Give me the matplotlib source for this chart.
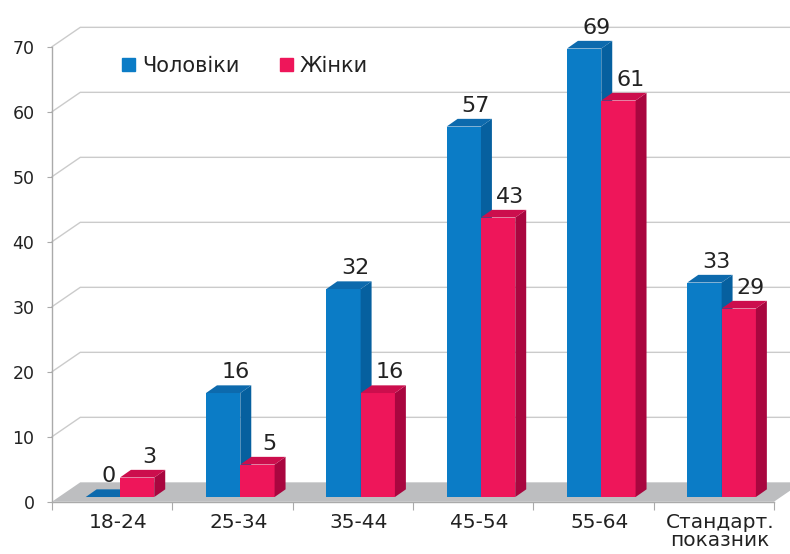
import numpy as np
import matplotlib.pyplot as plt
from matplotlib.patches import Patch

# Chart data
categories = ['18-24', '25-34', '35-44', '45-54', '55-64', 'Стандарт.\nпоказник']
men = [0, 16, 32, 57, 69, 33]
women = [3, 5, 16, 43, 61, 29]
series_names = ['Чоловіки', 'Жінки']

# colours: front, side, top
blue = ('#0b7cc6', '#06609f', '#0d6aad')
red = ('#ee165a', '#a9063f', '#cc0e4d')
grid_col = '#cbcbcb'
text_col = '#222222'

# fake 3d geometry (data units)
depth_x, depth_y = 0.235, 2.98      # full depth of the wall/floor
front_x, front_y = 0.057, 0.72      # where the bar front sits in depth
side_x, side_y = 0.091, 1.18        # bar depth
bar_w = 0.285

fig = plt.figure(figsize=(7.9, 5.54), dpi=100)
ax = fig.add_axes([52 / 790, (554 - 501.7) / 554, 737.6 / 790, 487.5 / 554])
ax.set_xlim(0, 6.13)
ax.set_ylim(0, 75)

n = len(categories)
yticks = np.arange(0, 80, 10)

# back wall gridlines
for v in yticks[1:]:
    ax.plot([0, depth_x, 6.13], [v, v + depth_y, v + depth_y],
            color=grid_col, lw=1, zorder=1, clip_on=False)

# floor
ax.fill([0, n, n + depth_x, depth_x], [0, 0, depth_y, depth_y],
        color='#bdbec0', lw=0, zorder=2, clip_on=False)


def draw_bar(x0, val, cols):
    x1 = x0 + bar_w
    y0 = front_y
    y1 = val + front_y
    ax.bar(x0, val, width=bar_w, bottom=y0, align='edge',
           color=cols[0], lw=0, zorder=3)
    ax.fill([x1, x1 + side_x, x1 + side_x, x1],
            [y0, y0 + side_y, y1 + side_y, y1],
            color=cols[1], lw=0, zorder=3)
    ax.fill([x0, x1, x1 + side_x, x0 + side_x],
            [y1, y1, y1 + side_y, y1 + side_y],
            color=cols[2], lw=0, zorder=3)


for i in range(n):
    left = i + 0.5 - bar_w + front_x + 0.008
    for k, (vals, cols) in enumerate([(men, blue), (women, red)]):
        x0 = left + k * bar_w
        draw_bar(x0, vals[i], cols)
        dx = 0.05 if vals[i] == 0 else 0.1
        ax.text(x0 + bar_w / 2 + dx, vals[i] + front_y + 2.3, str(vals[i]),
                ha='center', va='baseline', fontsize=16, color=text_col,
                zorder=5)

# axes styling
for s in ['top', 'right']:
    ax.spines[s].set_visible(False)
ax.spines['left'].set_bounds(0, 70)
ax.spines['bottom'].set_bounds(0, n)
for s in ['left', 'bottom']:
    ax.spines[s].set_color('#aaaaaa')
    ax.spines[s].set_linewidth(1)
    ax.spines[s].set_zorder(2.5)

ax.set_yticks(yticks)
ax.set_yticklabels([str(v) for v in yticks])
ax.tick_params(axis='y', length=3.6, pad=9, color='#aaaaaa',
               labelsize=12.5, labelcolor=text_col)

ax.set_xticks(np.arange(n + 1))
ax.set_xticklabels([])
ax.tick_params(axis='x', which='major', length=5.8, color='#aaaaaa')
ax.set_xticks(np.arange(n) + 0.55, minor=True)
ax.set_xticklabels(categories, minor=True, fontsize=14.5, color=text_col,
                   linespacing=0.92)
ax.tick_params(axis='x', which='minor', length=0, pad=8)

handles = [Patch(color=blue[0]), Patch(color=red[0])]
ax.legend(handles, series_names, loc='center left',
          bbox_to_anchor=(112 / 790, 1 - 66 / 554),
          bbox_transform=fig.transFigure, frameon=False, ncol=2,
          fontsize=15, handlelength=0.62, handleheight=0.62,
          handletextpad=0.35, columnspacing=1.9, borderpad=0,
          labelcolor=text_col)

fig.savefig('out.png', dpi=100)
